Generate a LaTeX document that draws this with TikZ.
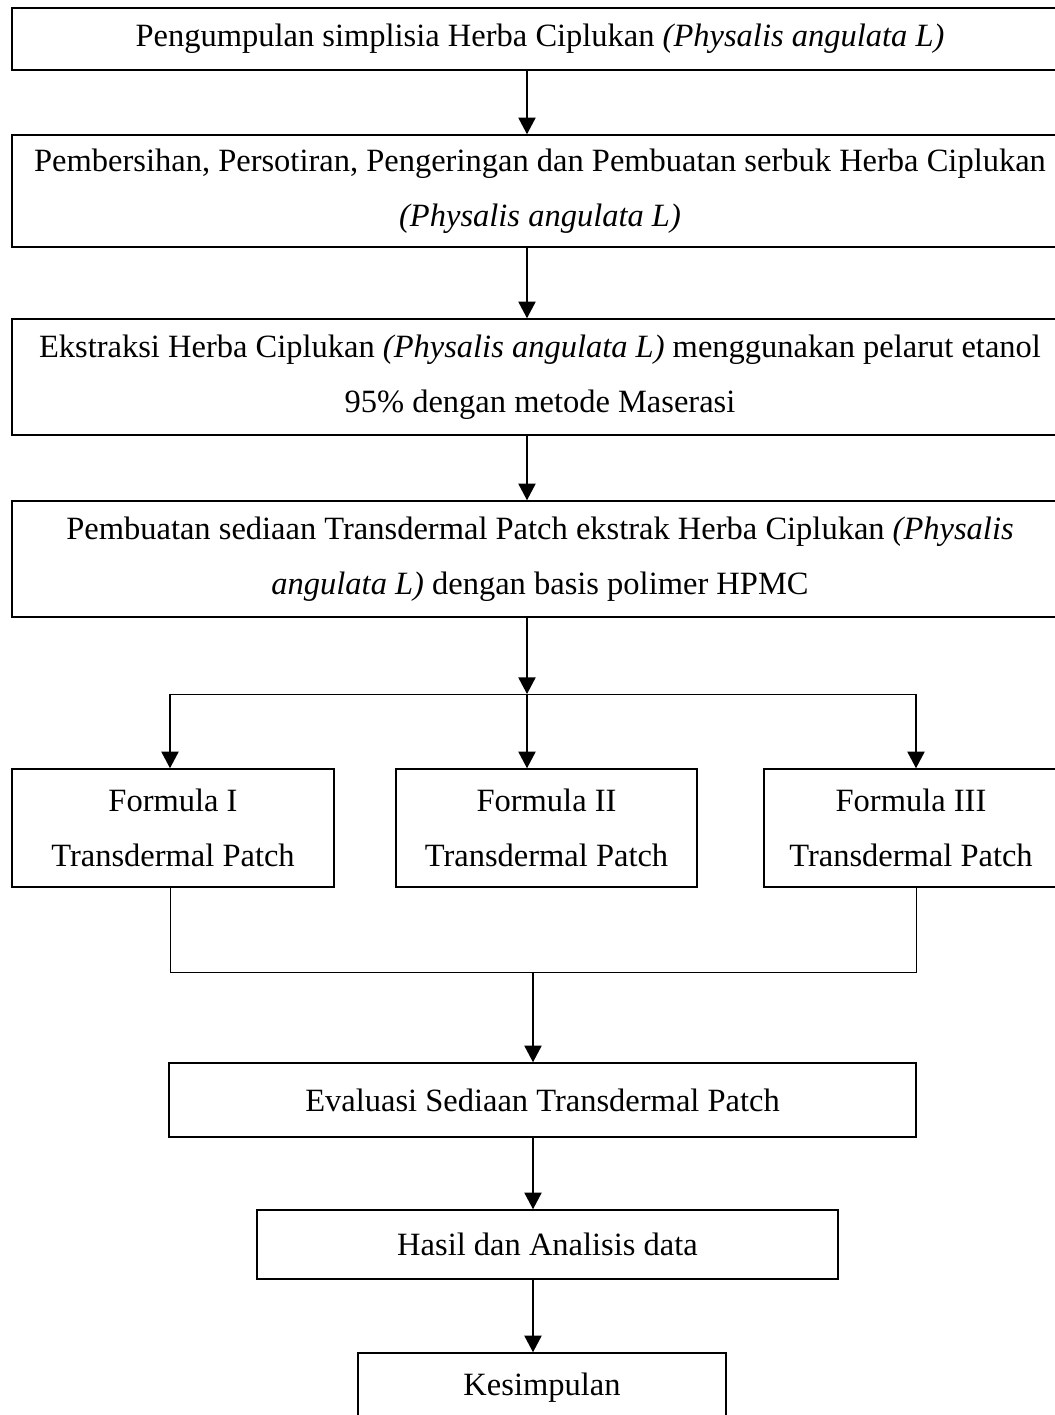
\documentclass[tikz,border=0pt]{standalone}
\usepackage{fontspec}
\setmainfont{Liberation Serif}
\usetikzlibrary{arrows.meta}

\def\pxu{0.36pt}
\tikzset{
  box/.style={draw, line width=0.55pt, inner sep=0pt, align=center,
    font=\fontsize{11.7}{19.8}\selectfont},
  arr/.style={line width=0.55pt, -{Triangle[length=6pt,width=6.2pt]}},
  link/.style={line width=0.3pt},
}

\begin{document}
\begin{tikzpicture}[x=\pxu,y=-\pxu]
\useasboundingbox (0,0) rectangle (1055,1415);

% Main steps
\node[box, minimum width=1056*\pxu, minimum height=62*\pxu] (kumpul) at (540,39)
  {Pengumpulan simplisia Herba Ciplukan \textit{(Physalis angulata L)}};
\node[box, minimum width=1056*\pxu, minimum height=112*\pxu] (bersih) at (540,191)
  {Pembersihan, Persotiran, Pengeringan dan Pembuatan serbuk Herba Ciplukan\\
   \textit{(Physalis angulata L)}};
\node[box, minimum width=1056*\pxu, minimum height=116*\pxu] (ekstrak) at (540,377)
  {Ekstraksi Herba Ciplukan \textit{(Physalis angulata L)} menggunakan pelarut etanol\\
   95\% dengan metode Maserasi};
\node[box, minimum width=1056*\pxu, minimum height=116*\pxu] (sediaan) at (540,559)
  {Pembuatan sediaan Transdermal Patch ekstrak Herba Ciplukan \textit{(Physalis}\\
   \textit{angulata L)} dengan basis polimer HPMC};

% Formulas
\node[box, minimum width=322*\pxu, minimum height=118*\pxu] (fI) at (173,828)
  {Formula I\\Transdermal Patch};
\node[box, minimum width=301*\pxu, minimum height=118*\pxu] (fII) at (546.5,828)
  {Formula II\\Transdermal Patch};
\node[box, minimum width=294*\pxu, minimum height=118*\pxu] (fIII) at (911,828)
  {Formula III\\Transdermal Patch};

% Evaluation and result
\node[box, minimum width=747*\pxu, minimum height=74*\pxu] (evaluasi) at (542.5,1100)
  {Evaluasi Sediaan Transdermal Patch};
\node[box, minimum width=581*\pxu, minimum height=69*\pxu] (hasil) at (547.5,1244.5)
  {Hasil dan Analisis data};
\node[box, minimum width=368*\pxu, minimum height=70*\pxu] (simpul) at (542,1388)
  {Kesimpulan};

% Helper points
\coordinate (spine) at (527,0);
\coordinate (split) at (527,694);
\coordinate (brL) at (170,694);
\coordinate (brR) at (916,694);
\coordinate (join) at (533,972);

% Connectors
\draw[arr] (kumpul.south -| spine) -- (bersih.north -| spine);
\draw[arr] (bersih.south -| spine) -- (ekstrak.north -| spine);
\draw[arr] (ekstrak.south -| spine) -- (sediaan.north -| spine);
\draw[arr] (sediaan.south -| spine) -- (split);
\draw[link] (brL) -- (brR);
\draw[arr] (brL) -- (fI.north -| brL);
\draw[arr] (split) -- (fII.north -| split);
\draw[arr] (brR) -- (fIII.north -| brR);
\draw[link] (fI.south -| brL) |- (join) -| (fIII.south -| brR);
\draw[arr] (join) -- (evaluasi.north -| join);
\draw[arr] (evaluasi.south -| join) -- (hasil.north -| join);
\draw[arr] (hasil.south -| join) -- (simpul.north -| join);

\end{tikzpicture}
\end{document}
